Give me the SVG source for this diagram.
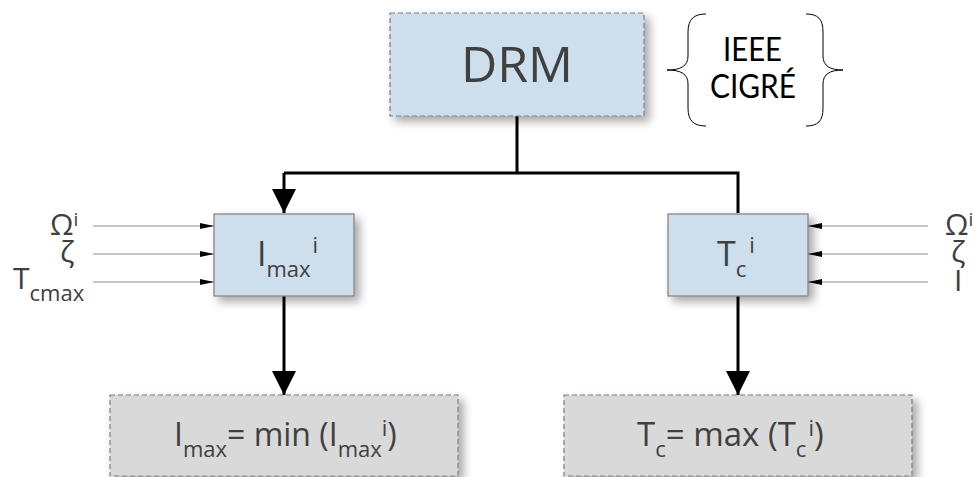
<svg xmlns="http://www.w3.org/2000/svg" width="977" height="477" viewBox="0 0 977 477">
<defs>
<filter id="sh" x="-10%" y="-10%" width="130%" height="140%">
<feDropShadow dx="5" dy="5" stdDeviation="5" flood-color="#000" flood-opacity="0.35"/>
</filter>
<marker id="big" viewBox="0 0 24 24" markerWidth="24" markerHeight="24" refX="24" refY="12" orient="auto" markerUnits="userSpaceOnUse">
<path d="M0,0 L24,12 L0,24 Z" fill="#000"/>
</marker>
<marker id="small" viewBox="0 0 14 6" markerWidth="14" markerHeight="6" refX="14" refY="3" orient="auto" markerUnits="userSpaceOnUse">
<path d="M0,0 L14,3 L0,6 Z" fill="#000"/>
</marker>
</defs>
<style>
.blue{fill:#cddeec;stroke:#7f7f7f;stroke-width:1.2}
.dash{stroke-dasharray:5 3}
.gray{fill:#d9d9d9;stroke:#7f7f7f;stroke-width:1.2;stroke-dasharray:5 3}
.t{font-family:"Open Sans",sans-serif;fill:#404040}
.std{font-family:Lato,sans-serif;font-size:33px;fill:#000}
.conn{stroke:#000;stroke-width:3;fill:none}
.inp{stroke:#8c8c8c;stroke-width:1.2;fill:none}
.brace{fill:none;stroke:#000;stroke-width:1}
</style>
<g id="connectors">
<path class="conn" d="M517,116 V173"/>
<path class="conn" d="M284,173 H738 V213"/>
<path class="conn" d="M284,173 V213" marker-end="url(#big)"/>
<path class="conn" d="M284,296 V395" marker-end="url(#big)"/>
<path class="conn" d="M738,296 V395" marker-end="url(#big)"/>
<path class="inp" d="M93,226 H214" marker-end="url(#small)"/>
<path class="inp" d="M93,254 H214" marker-end="url(#small)"/>
<path class="inp" d="M93,282 H214" marker-end="url(#small)"/>
<path class="inp" d="M928,226 H808" marker-end="url(#small)"/>
<path class="inp" d="M928,254 H808" marker-end="url(#small)"/>
<path class="inp" d="M928,282 H808" marker-end="url(#small)"/>
</g>
<g id="drm">
<rect class="blue dash" x="390" y="13" width="254" height="103" filter="url(#sh)"/>
<text class="t" x="517" y="82" font-size="50" text-anchor="middle">DRM</text>
</g>
<g id="standards">
<path class="brace" d="M706,14 C694,14 688,19 688,32 V56 C688,66 681,70 667,70 C681,70 688,74 688,84 V108 C688,121 694,126 706,126"/>
<path class="brace" d="M806,14 C818,14 823,19 823,32 V56 C823,66 830,70 843,70 C830,70 823,74 823,84 V108 C823,121 818,126 806,126"/>
<text class="std" x="723" y="61" textLength="59" lengthAdjust="spacingAndGlyphs">IEEE</text>
<text class="std" x="710" y="98" textLength="86" lengthAdjust="spacingAndGlyphs">CIGRÉ</text>
</g>
<g id="imax">
<rect class="blue" x="214" y="214" width="140" height="82" filter="url(#sh)"/>
<text class="t" x="257" y="266" font-size="34">I<tspan font-size="22" dy="11">max</tspan><tspan font-size="22" dy="-24" dx="2">i</tspan></text>
</g>
<g id="tc">
<rect class="blue" x="668" y="214" width="140" height="82" filter="url(#sh)"/>
<text class="t" x="717" y="266" font-size="34">T<tspan font-size="22" dy="11">c</tspan><tspan font-size="22" dy="-24" dx="3">i</tspan></text>
</g>
<g id="inputs-left">
<text class="t" x="50" y="235" font-size="30">Ω<tspan font-size="19" dy="-9">i</tspan></text>
<text class="t" x="60" y="262" font-size="30">ζ</text>
<text class="t" x="13" y="289" font-size="30">T<tspan font-size="22" dy="12">cmax</tspan></text>
</g>
<g id="inputs-right">
<text class="t" x="945" y="235" font-size="30">Ω<tspan font-size="19" dy="-9">i</tspan></text>
<text class="t" x="951" y="262" font-size="30">ζ</text>
<text class="t" x="954" y="291" font-size="30">I</text>
</g>
<g id="imax-out">
<rect class="gray" x="110" y="395" width="348" height="81" filter="url(#sh)"/>
<text class="t" x="174" y="446" font-size="32">I<tspan font-size="22" dy="11">max</tspan><tspan dy="-11">= min (I</tspan><tspan font-size="22" dy="11">max</tspan><tspan font-size="22" dy="-21">i</tspan><tspan dy="10">)</tspan></text>
</g>
<g id="tc-out">
<rect class="gray" x="564" y="395" width="348" height="81" filter="url(#sh)"/>
<text class="t" x="637" y="446" font-size="33">T<tspan font-size="22" dy="11">c</tspan><tspan dy="-11">= max (T</tspan><tspan font-size="22" dy="11">c</tspan><tspan font-size="22" dy="-21" dx="2">i</tspan><tspan dy="10">)</tspan></text>
</g>
</svg>
